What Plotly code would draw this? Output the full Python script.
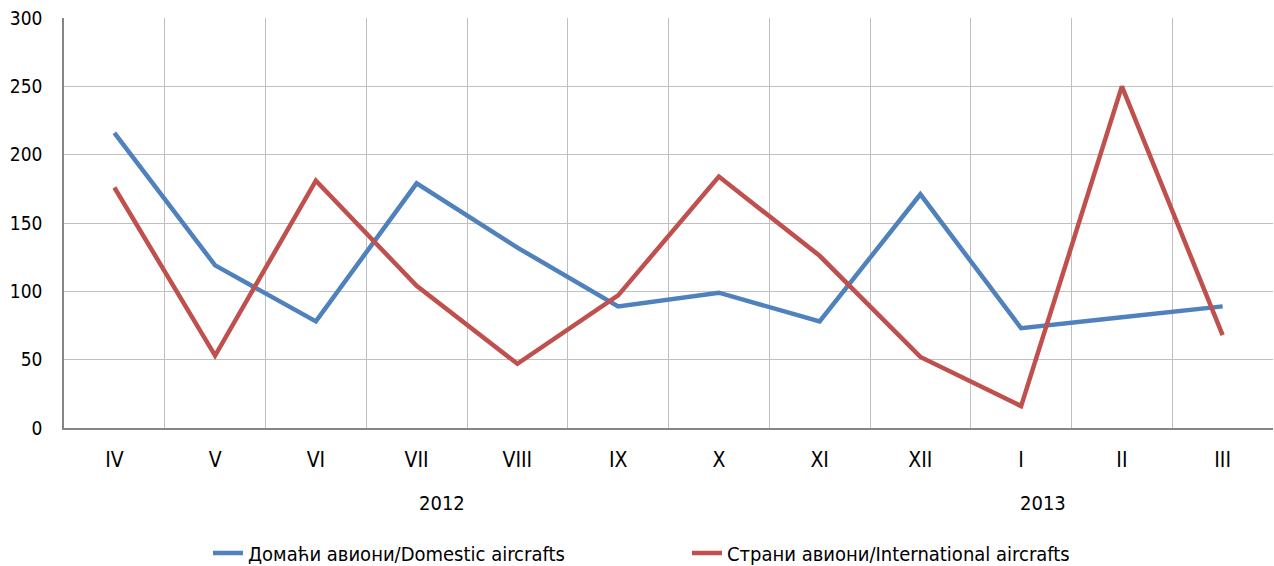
import plotly.graph_objects as go

months = ["IV", "V", "VI", "VII", "VIII", "IX", "X", "XI", "XII", "I", "II", "III"]
domestic = [216, 119, 78, 179, 132, 89, 99, 78, 171, 73, 81, 89]
international = [176, 53, 181, 104, 47, 97, 184, 126, 52, 16, 250, 68]
years = ["2012", "2013"]
year_pos = [3.0, 9.47]  # category index where the year label sits

name_dom = "Домаћи авиони/Domestic aircrafts"
name_int = "Страни авиони/International aircrafts"

FONT = "Tahoma, 'DejaVu Sans Condensed', 'DejaVu Sans', sans-serif"

fig = go.Figure()
fig.add_trace(go.Scatter(x=months, y=domestic, mode="lines", name=name_dom,
                         line=dict(color="#4f81bd", width=4.5)))
fig.add_trace(go.Scatter(x=months, y=international, mode="lines", name=name_int,
                         line=dict(color="#c0504d", width=4.5)))

n = len(months)
for yr, pos in zip(years, year_pos):
    fig.add_annotation(x=(pos + 0.5) / n, xref="paper", y=-0.183, yref="paper",
                       text=yr, showarrow=False, yanchor="middle",
                       font=dict(size=20, color="#000000", family=FONT))

fig.update_layout(
    width=1274, height=566,
    margin=dict(l=64, r=1, t=18, b=138),
    paper_bgcolor="white", plot_bgcolor="white",
    font=dict(family=FONT, size=20, color="#000000"),
    showlegend=True,
    legend=dict(orientation="h", x=144 / 1209, xanchor="left",
                yref="container", y=13 / 566, yanchor="middle",
                font=dict(size=20), entrywidth=434, entrywidthmode="pixels",
                tracegroupgap=0),
    xaxis=dict(type="category", tickson="boundaries", showgrid=True,
               gridcolor="#bfbfbf", gridwidth=1, automargin=False,
               showline=True, linecolor="#868686", linewidth=1.5,
               ticks="", ticklabelstandoff=12, range=[-0.5, 11.5],
               tickfont=dict(size=21)),
    yaxis=dict(range=[0, 300], dtick=50, showgrid=True, gridcolor="#bfbfbf", gridwidth=1,
               showline=True, linecolor="#868686", linewidth=1.5, automargin=False,
               ticks="", ticklabelstandoff=16, zeroline=False,
               ticklabeloverflow="allow", tickfont=dict(size=19)),
)

fig.write_html("out.html",
               config={"displayModeBar": False},
               post_script="document.body.style.margin='0';document.body.style.overflow='hidden';")
